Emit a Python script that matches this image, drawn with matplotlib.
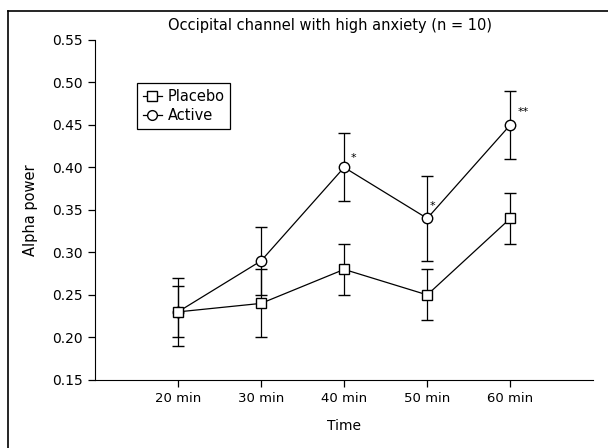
import numpy as np
import matplotlib.pyplot as plt
from matplotlib.lines import Line2D

# Datos
minutos = [20, 30, 40, 50, 60]
etiquetas = ["20 min", "30 min", "40 min", "50 min", "60 min"]

placebo = [0.23, 0.24, 0.28, 0.25, 0.34]
placebo_err = [0.03, 0.04, 0.03, 0.03, 0.03]

activo = [0.23, 0.29, 0.40, 0.34, 0.45]
activo_err = [0.04, 0.04, 0.04, 0.05, 0.04]

# significancia (indice, texto, desplazamiento en pixeles)
estrellas = [(2, "*", (7, 4)), (3, "*", (2, 7)), (4, "**", (7, 8))]

plt.rcParams['font.family'] = ['DejaVu Sans']

fig = plt.figure(figsize=(6.08, 4.48), dpi=100)
ax = fig.add_axes([0.156, 0.152, 0.82, 0.759])

# marco de la figura (solo izquierda y arriba visibles)
fig.add_artist(Line2D([0.013, 0.013], [0.0, 0.975], color='black', lw=1.2))
fig.add_artist(Line2D([0.013, 1.0], [0.975, 0.975], color='black', lw=1.2))

estilo = dict(color='black', lw=0.9, elinewidth=0.9, capsize=4, capthick=0.9,
              markersize=7.5, markerfacecolor='white', markeredgecolor='black',
              markeredgewidth=1.0, zorder=3)
ax.errorbar(minutos, activo, yerr=activo_err, marker='o', **estilo)
ax.errorbar(minutos, placebo, yerr=placebo_err, marker='s', **estilo)

for i, txt, (dx, dy) in estrellas:
    ax.annotate(txt, (minutos[i], activo[i]), xytext=(dx, dy),
                textcoords='offset pixels', fontsize=8, ha='left', va='bottom')

ax.set_xlim(10, 70)
ax.set_ylim(0.15, 0.55)
ax.set_xticks(minutos)
ax.set_xticklabels(etiquetas, fontsize=9.5)
ticks_y = np.arange(0.15, 0.551, 0.05)
ax.set_yticks(ticks_y)
ax.set_yticklabels([f"{v:.2f}" for v in ticks_y], fontsize=10)
ax.tick_params(direction='out', length=5, width=0.9)
ax.spines['top'].set_visible(False)
ax.spines['right'].set_visible(False)
ax.set_xlabel("Time", fontsize=10, labelpad=10)
ax.set_ylabel("Alpha power", fontsize=10.5, labelpad=10)
fig.text(0.543, 0.944, "Occipital channel with high anxiety (n = 10)",
         fontsize=10.5, ha='center', va='center')

handles = [
    Line2D([], [], color='black', lw=0.9, marker='s', markersize=7,
           markerfacecolor='white', markeredgecolor='black'),
    Line2D([], [], color='black', lw=0.9, marker='o', markersize=7,
           markerfacecolor='white', markeredgecolor='black'),
]
leg = ax.legend(handles, ["Placebo", "Active"], loc='upper left',
                bbox_to_anchor=(0.07, 0.895), fontsize=10.5, handlelength=1.3,
                handletextpad=0.4, borderpad=0.4, labelspacing=0.3,
                fancybox=False, edgecolor='black', framealpha=1)
leg.get_frame().set_linewidth(0.9)

plt.savefig("out.png", dpi=100)
